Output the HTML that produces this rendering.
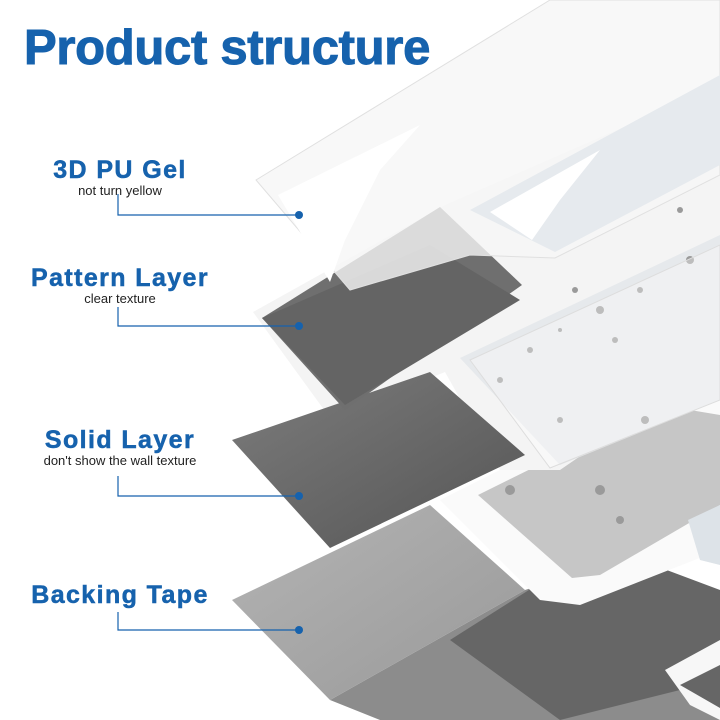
<!DOCTYPE html>
<html><head><meta charset="utf-8"><style>
body{margin:0;background:#fff;}
#c{position:relative;width:720px;height:720px;overflow:hidden;font-family:"Liberation Sans",Arial,sans-serif;}
.t{position:absolute;left:24px;top:20px;font-size:49px;font-weight:bold;color:#1662ad;-webkit-text-stroke:1px #1662ad;letter-spacing:-0.3px;}
.l{position:absolute;text-align:center;color:#1662ad;font-weight:bold;font-size:25px;line-height:28px;-webkit-text-stroke:0.5px #1662ad;letter-spacing:1.4px;}
.s{display:block;color:#222;font-weight:normal;font-size:13px;line-height:15px;-webkit-text-stroke:0;letter-spacing:0;margin-top:-1px;}
</style></head><body><div id="c">
<svg width="720" height="720" style="position:absolute;left:0;top:0">
<defs>
<linearGradient id="g1" x1="0" y1="0" x2="1" y2="1"><stop offset="0" stop-color="#7c7c7c"/><stop offset="1" stop-color="#555"/></linearGradient>
<linearGradient id="g2" x1="0" y1="0" x2="1" y2="1"><stop offset="0" stop-color="#b4b4b4"/><stop offset="1" stop-color="#999"/></linearGradient>
</defs>
<polygon points="330,700 525,590 620,560 720,610 720,720 380,720" fill="#8c8c8c"/>
<polygon points="450,640 600,545 720,590 720,680 560,720" fill="#666"/>
<polygon points="232,600 430,505 525,590 330,700" fill="url(#g2)"/>
<polygon points="440,500 720,360 720,550 580,605 540,600" fill="#fafafa"/>
<polygon points="478,495 660,405 720,415 720,505 600,575 572,578" fill="#c6c6c6"/>
<polygon points="688,520 720,505 720,565 700,560" fill="#dde3e8"/>
<polygon points="665,670 720,640 720,720 690,705" fill="#f7f7f7"/>
<polygon points="680,685 720,665 720,708" fill="#666"/>
<polygon points="253,312 445,205 720,85 720,360 560,470 500,470 445,372 330,418" fill="#f4f4f4"/>
<polygon points="232,440 430,372 525,455 330,548" fill="url(#g1)"/>
<polygon points="262,318 440,207 522,285 345,410" fill="#6f6f6f"/>
<polygon points="262,318 430,245 520,300 345,405" fill="#646464"/>
<polygon points="460,358 720,235 720,400 560,465" fill="#e6e9ec"/>
<g fill="#9a9a9a"><circle cx="575" cy="290" r="3"/><circle cx="600" cy="310" r="4"/><circle cx="640" cy="290" r="3"/><circle cx="560" cy="330" r="2"/><circle cx="690" cy="260" r="4"/><circle cx="615" cy="340" r="3"/><circle cx="530" cy="350" r="3"/><circle cx="680" cy="210" r="3"/><circle cx="645" cy="420" r="4"/><circle cx="600" cy="490" r="5"/><circle cx="510" cy="490" r="5"/><circle cx="620" cy="520" r="4"/><circle cx="500" cy="380" r="3"/><circle cx="560" cy="420" r="3"/></g>
<polygon points="256,180 550,0 720,0 720,175 555,258 470,255 350,290" fill="#f6f6f6" fill-opacity="0.8" stroke="#e0e0e0"/>
<polygon points="278,195 420,125 380,170 345,240 330,282" fill="#fff"/>
<polygon points="470,210 720,75 720,165 555,252" fill="#e6eaee"/>
<polygon points="490,212 600,150 560,200 532,240" fill="#fff"/>
<polygon points="470,360 720,245 720,400 550,468" fill="#fff" fill-opacity="0.35" stroke="#ddd"/>
<g stroke="#1662ad" stroke-width="1.2" fill="none">
<polyline points="118,194 118,215 298,215"/>
<polyline points="118,307 118,326 298,326"/>
<polyline points="118,476 118,496 298,496"/>
<polyline points="118,612 118,630 298,630"/>
</g>
<g fill="#1662ad"><circle cx="299" cy="215" r="4"/><circle cx="299" cy="326" r="4"/><circle cx="299" cy="496" r="4"/><circle cx="299" cy="630" r="4"/></g>
</svg>
<div class="t">Product structure</div>
<div class="l" style="left:10px;width:220px;top:156px">3D PU Gel<span class="s">not turn yellow</span></div>
<div class="l" style="left:0px;width:240px;top:264px">Pattern Layer<span class="s">clear texture</span></div>
<div class="l" style="left:0px;width:240px;top:426px">Solid Layer<span class="s">don't show the wall texture</span></div>
<div class="l" style="left:0px;width:240px;top:581px">Backing Tape</div>
</div></body></html>
